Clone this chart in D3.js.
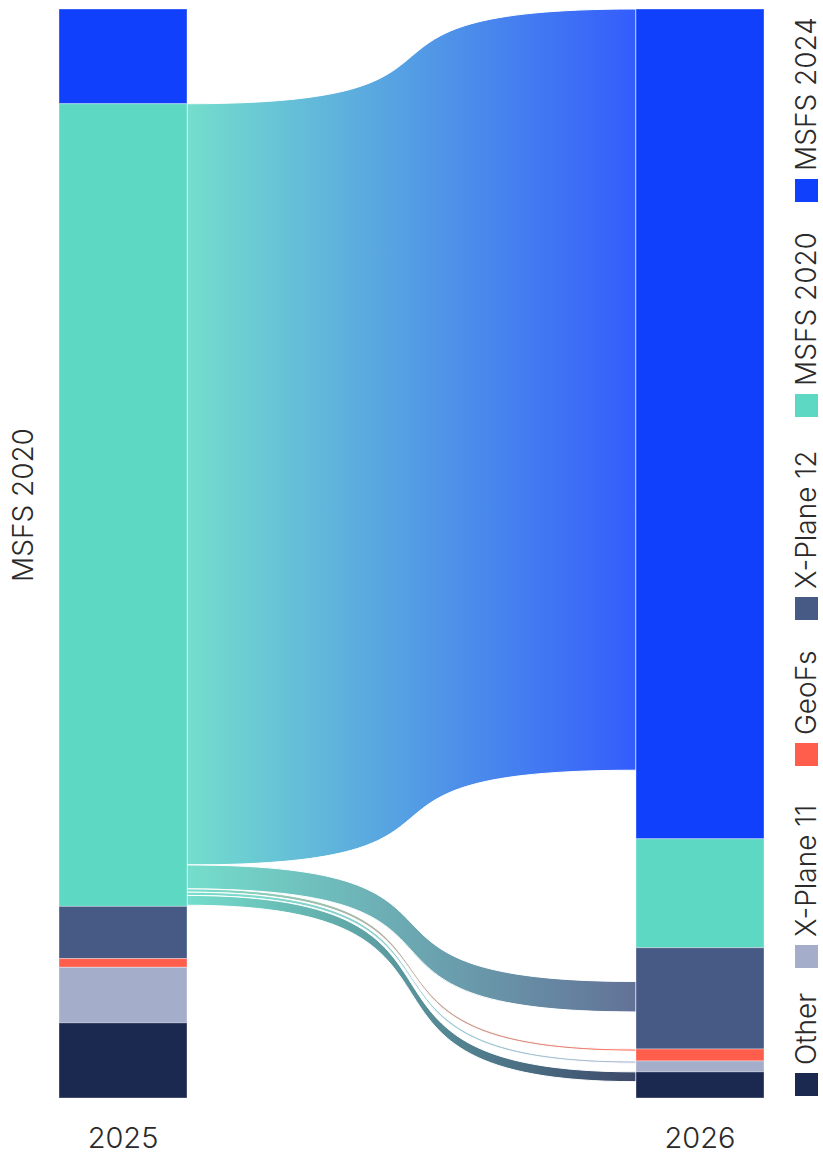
<!DOCTYPE html>
<html>
<head>
<meta charset="utf-8">
<script src="https://cdn.jsdelivr.net/npm/d3@7/dist/d3.min.js"></script>
<style>
  html, body { margin: 0; padding: 0; background: #fff; }
  svg { display: block; }
  text { font-family: Inter, "Noto Sans", sans-serif; fill: #2a2a2a; }
</style>
</head>
<body>
<svg id="chart" width="823" height="1154"></svg>
<script>
// ---------------- data ----------------
const categories = ["MSFS 2024", "MSFS 2020", "X-Plane 12", "GeoFs", "X-Plane 11", "Other"];
const categoryColors = ["#1040fc", "#5cd8c3", "#475985", "#ff5e4d", "#a4aecb", "#1b2850"];
const years = ["2025", "2026"];
// share of respondents (%) per simulator, each year
const share2025 = [8.7, 73.7, 4.8, 0.8, 5.1, 6.9];
const share2026 = [76.2, 10.0, 9.3, 1.1, 1.0, 2.4];
// flows of 2025 MSFS 2020 users into 2026
const flowSource = "MSFS 2020";
const flowTargets = ["MSFS 2024", "X-Plane 12", "GeoFs", "X-Plane 11", "Other"];
const flowOut = [69.9, 2.2, 0.3, 0.3, 0.9];     // share leaving (2025 side)
const flowIn = [69.9, 2.8, 0.2, 0.2, 0.9];      // share arriving (2026 side)
const flowInBefore = [0, 3.1, 0, 0, 0];         // share of target node stacked above the flow
const labelledNode = "MSFS 2020";

// ---------------- layout ----------------
const svg = d3.select("#chart");
const plotTop = 9, plotBottom = 1098;
const total = d3.sum(share2025);
const y = d3.scaleLinear().domain([0, total]).range([plotTop, plotBottom]);
const x = d3.scaleOrdinal().domain(years).range([59, 636]);
const nodeW = 128;
const curvature = 0.75;
const color = d3.scaleOrdinal().domain(categories).range(categoryColors);

function stack(values) {
  let acc = 0;
  return categories.map((c, i) => {
    const s = { name: c, y0: acc, y1: acc + values[i] };
    acc += values[i];
    return s;
  });
}
const nodes2025 = stack(share2025);
const nodes2026 = stack(share2026);

// ---------------- links ----------------
const defs = svg.append("defs");
const src = nodes2025.find(n => n.name === flowSource);
const sx = x("2025") + nodeW, tx = x("2026");
const c1 = sx + curvature * (tx - sx), c2 = tx - curvature * (tx - sx);

let outAcc = src.y0;
const links = flowTargets.map((t, i) => {
  const tn = nodes2026.find(n => n.name === t);
  const l = {
    target: t,
    s0: outAcc, s1: outAcc + flowOut[i],
    t0: tn.y0 + flowInBefore[i], t1: tn.y0 + flowInBefore[i] + flowIn[i]
  };
  outAcc += flowOut[i];
  return l;
});

links.forEach((l, i) => {
  const g = defs.append("linearGradient")
    .attr("id", "grad" + i)
    .attr("gradientUnits", "userSpaceOnUse")
    .attr("x1", sx).attr("x2", tx).attr("y1", 0).attr("y2", 0);
  g.append("stop").attr("offset", "0%").attr("stop-color", color(flowSource));
  g.append("stop").attr("offset", "100%").attr("stop-color", color(l.target));
});

function ribbon(l) {
  const p = d3.path();
  p.moveTo(sx, y(l.s0));
  p.bezierCurveTo(c1, y(l.s0), c2, y(l.t0), tx, y(l.t0));
  p.lineTo(tx, y(l.t1));
  p.bezierCurveTo(c2, y(l.t1), c1, y(l.s1), sx, y(l.s1));
  p.closePath();
  return p.toString();
}

svg.append("g").selectAll("path")
  .data(links)
  .join("path")
  .attr("d", ribbon)
  .attr("fill", (d, i) => `url(#grad${i})`)
  .attr("fill-opacity", 0.85)
  .attr("stroke", "#fff")
  .attr("stroke-width", 1);

// ---------------- nodes ----------------
[[nodes2025, "2025"], [nodes2026, "2026"]].forEach(([ns, yr]) => {
  svg.append("g").selectAll("rect")
    .data(ns)
    .join("rect")
    .attr("x", x(yr))
    .attr("y", d => y(d.y0))
    .attr("width", nodeW)
    .attr("height", d => y(d.y1) - y(d.y0))
    .attr("fill", d => color(d.name))
    .attr("stroke", "#ffffff")
    .attr("stroke-opacity", 0.35)
    .attr("stroke-width", 1);
});

// year labels
svg.append("g").selectAll("text")
  .data(years)
  .join("text")
  .attr("x", d => x(d) + nodeW / 2)
  .attr("y", 1148)
  .attr("text-anchor", "middle")
  .attr("font-size", 29)
  .attr("font-weight", 300)
  .text(d => d);

// node label on the left
const ln = nodes2025.find(n => n.name === labelledNode);
svg.append("text")
  .attr("transform", `translate(33,${(y(ln.y0) + y(ln.y1)) / 2}) rotate(-90)`)
  .attr("text-anchor", "middle")
  .attr("font-size", 28)
  .attr("font-weight", 300)
  .text(labelledNode);

// ---------------- legend (rotated, reading bottom to top) ----------------
const legendOrder = categories.slice().reverse();
const legendOffsets = [0, 128, 330, 476, 679, 894];
const legend = svg.append("g").attr("transform", "translate(816,1096) rotate(-90)");
const items = legend.selectAll("g")
  .data(legendOrder)
  .join("g")
  .attr("transform", (d, i) => `translate(${legendOffsets[i]},0)`);
items.append("rect")
  .attr("x", 0).attr("y", -21)
  .attr("width", 23).attr("height", 23)
  .attr("fill", d => color(d));
items.append("text")
  .attr("x", 31).attr("y", 0)
  .attr("font-size", 28)
  .attr("font-weight", 300)
  .text(d => d);
</script>
</body>
</html>
